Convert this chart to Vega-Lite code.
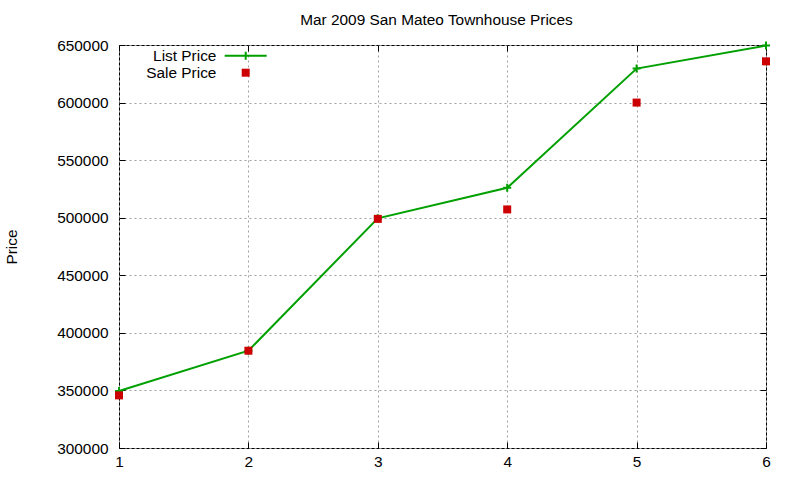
{
  "$schema": "https://vega.github.io/schema/vega-lite/v6.json",
  "width": 647,
  "height": 403,
  "autosize": "none",
  "padding": {"left": 119, "top": 45, "right": 34, "bottom": 32},
  "title": {
    "text": "Mar 2009 San Mateo Townhouse Prices",
    "fontSize": 15.4,
    "fontWeight": "normal",
    "font": "Liberation Sans",
    "color": "black",
    "anchor": "middle",
    "dx": -6,
    "offset": 9
  },
  "data": {
    "values": [
      {"month": 1, "series": "List Price", "price": 349500},
      {"month": 2, "series": "List Price", "price": 384500},
      {"month": 3, "series": "List Price", "price": 499500},
      {"month": 4, "series": "List Price", "price": 526000},
      {"month": 5, "series": "List Price", "price": 629500},
      {"month": 6, "series": "List Price", "price": 649500},
      {"month": 1, "series": "Sale Price", "price": 345700},
      {"month": 2, "series": "Sale Price", "price": 384500},
      {"month": 3, "series": "Sale Price", "price": 499000},
      {"month": 4, "series": "Sale Price", "price": 507200},
      {"month": 5, "series": "Sale Price", "price": 600000},
      {"month": 6, "series": "Sale Price", "price": 635800}
    ]
  },
  "layer": [
    {
      "transform": [{"filter": "datum.series == 'List Price'"}],
      "mark": {"type": "line", "color": "#00a000", "strokeWidth": 2},
      "encoding": {
        "x": {
          "field": "month",
          "type": "quantitative",
          "scale": {"domain": [1, 6], "nice": false, "zero": false},
          "axis": {
            "orient": "bottom",
            "values": [1, 2, 3, 4, 5, 6],
            "format": "d",
            "title": null,
            "grid": true,
            "tickSize": -6,
            "labelPadding": 12,
            "labelFlush": false
          }
        },
        "y": {
          "field": "price",
          "type": "quantitative",
          "scale": {"domain": [300000, 650000], "nice": false, "zero": false},
          "axis": {
            "orient": "left",
            "values": [300000, 350000, 400000, 450000, 500000, 550000, 600000, 650000],
            "format": "d",
            "title": "Price",
            "grid": true,
            "tickSize": -6,
            "labelPadding": 17,
            "titlePadding": 37
          }
        }
      }
    },
    {
      "transform": [{"filter": "datum.series == 'List Price'"}],
      "mark": {"type": "point", "shape": "M-1,0H1M0,-1V1", "size": 64, "filled": false, "color": "#00a000", "strokeWidth": 2, "opacity": 1},
      "encoding": {
        "x": {
          "field": "month",
          "type": "quantitative",
          "axis": {"orient": "top", "values": [1, 2, 3, 4, 5, 6], "labels": false, "title": null, "grid": false, "tickSize": -6}
        },
        "y": {
          "field": "price",
          "type": "quantitative",
          "axis": {"orient": "right", "values": [300000, 350000, 400000, 450000, 500000, 550000, 600000, 650000], "labels": false, "title": null, "grid": false, "tickSize": -6}
        }
      }
    },
    {
      "transform": [{"filter": "datum.series == 'Sale Price'"}],
      "mark": {"type": "point", "size": 64, "filled": true, "opacity": 1},
      "encoding": {
        "x": {"field": "month", "type": "quantitative", "axis": null},
        "y": {"field": "price", "type": "quantitative", "axis": null},
        "color": {
          "field": "series",
          "type": "nominal",
          "scale": {"domain": ["List Price", "Sale Price"], "range": ["#00a000", "#cc0000"]},
          "legend": {
            "title": null,
            "orient": "none",
            "legendX": 119,
            "legendY": 3,
            "padding": 0,
            "rowPadding": 0,
            "symbolSize": 64,
            "symbolOpacity": 1,
            "labelAlign": "right",
            "labelOffset": -37,
            "labelFontSize": 15.4,
            "labelFont": "Liberation Sans",
            "labelColor": "black"
          }
        },
        "shape": {
          "field": "series",
          "type": "nominal",
          "scale": {
            "domain": ["List Price", "Sale Price"],
            "range": ["M-5.25,-0.25H-0.25V-1H0.25V-0.25H5.25V0.25H0.25V1H-0.25V0.25H-5.25Z", "square"]
          },
          "legend": {
            "title": null,
            "orient": "none",
            "legendX": 119,
            "legendY": 3,
            "padding": 0,
            "rowPadding": 0,
            "symbolSize": 64,
            "symbolOpacity": 1,
            "labelAlign": "right",
            "labelOffset": -37,
            "labelFontSize": 15.4,
            "labelFont": "Liberation Sans",
            "labelColor": "black"
          }
        }
      }
    }
  ],
  "config": {
    "view": {"stroke": "black", "strokeWidth": 1},
    "axis": {
      "domain": false,
      "tickColor": "black",
      "tickWidth": 1,
      "gridColor": "#a0a0a0",
      "gridDash": [2, 3],
      "gridOpacity": 1,
      "gridWidth": 1,
      "labelFont": "Liberation Sans",
      "labelFontSize": 15.4,
      "labelColor": "black",
      "titleFont": "Liberation Sans",
      "titleFontSize": 15.4,
      "titleFontWeight": "normal",
      "titleColor": "black"
    }
  }
}
